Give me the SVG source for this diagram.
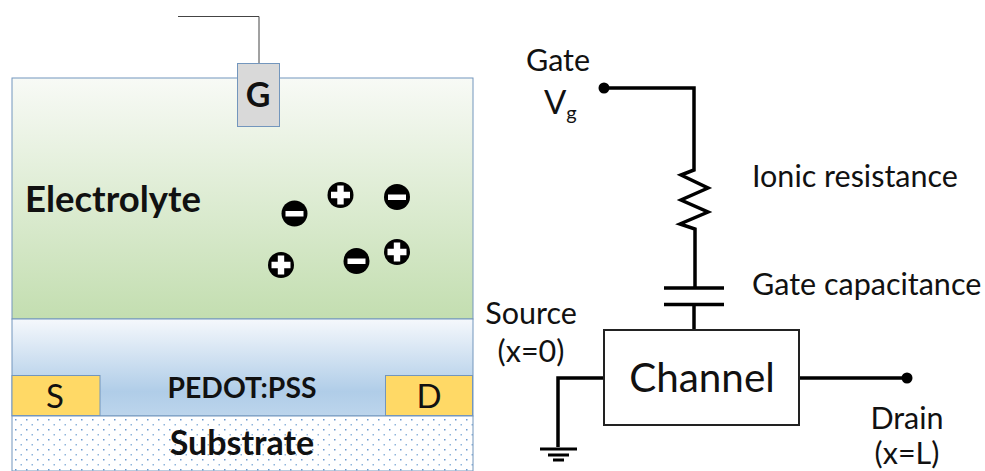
<svg xmlns="http://www.w3.org/2000/svg" width="985" height="471" viewBox="0 0 985 471">
<style>
text{font-family:Lato,"Open Sans",sans-serif;fill:#111}
.b{font-weight:700}
.lbl{font-size:30.500px}
.big{font-size:33px}
.layer{stroke:#7396bd;stroke-width:1}
.w{fill:none;stroke:#000;stroke-width:3.500}
.ion{fill:#000;stroke:none}
.sym{fill:#fff}
</style>
<defs>
<linearGradient id="g1" x1="0" y1="0" x2="0" y2="1"><stop offset="0" stop-color="#f8faf6"/><stop offset="1" stop-color="#c3deb0"/></linearGradient>
<linearGradient id="g2" x1="0" y1="0" x2="0" y2="1"><stop offset="0" stop-color="#f5f8fc"/><stop offset="0.75" stop-color="#b0cde8"/><stop offset="1" stop-color="#bcd5ec"/></linearGradient>
<pattern id="dots" width="11" height="10" patternUnits="userSpaceOnUse" patternTransform="translate(15 419)"><rect width="11" height="10" fill="#fff"/><rect x="0" y="0" width="1.500" height="1.500" fill="#6b9ad0"/><rect x="5.500" y="5" width="1.500" height="1.500" fill="#90b5dc"/></pattern>
</defs>
<g id="connectors">
<path d="M178 16.500H259V63" fill="none" stroke="#444" stroke-width="1"/>
<path class="w" d="M604 88H694V170L681 175L708 188L681 200L708 212L680 224L695 229V288"/>
<path class="w" d="M694 304V330"/>
<path class="w" d="M604 378H558V447"/>
<path class="w" d="M800 378H906"/>
<path d="M664 288H724M664 304.500H724" fill="none" stroke="#000" stroke-width="3.500"/>
<path d="M540 449H577M548 455H569M553 460H564" fill="none" stroke="#000" stroke-width="3"/>
<circle cx="604" cy="88" r="5.500" fill="#000"/>
<circle cx="907" cy="378" r="5.500" fill="#000"/>
</g>
<g id="electrolyte"><rect class="layer" x="12" y="78" width="461" height="241" fill="url(#g1)"/><text class="b" x="25" y="212" font-size="36.500">Electrolyte</text></g>
<g id="pedot"><rect class="layer" x="12" y="319" width="461" height="97" fill="url(#g2)"/><text class="b" x="242" y="398" font-size="28.300" text-anchor="middle">PEDOT:PSS</text></g>
<g id="substrate"><rect class="layer" x="12" y="416" width="461" height="55" fill="url(#dots)"/><text class="b" x="242" y="455" font-size="34" text-anchor="middle">Substrate</text></g>
<g id="source"><rect class="layer" x="12" y="375.500" width="88" height="40" fill="#ffd966"/><text class="big" x="55" y="408" text-anchor="middle">S</text></g>
<g id="drain"><rect class="layer" x="385.500" y="375.500" width="87" height="40" fill="#ffd966"/><text class="big" x="429" y="408" text-anchor="middle">D</text></g>
<g id="gate"><rect class="layer" x="237.500" y="63.500" width="42" height="63" fill="#d9d9d9"/><text class="b" x="258" y="107" font-size="34" text-anchor="middle">G</text></g>
<g id="ions">
<g id="ion1"><circle class="ion" cx="294.500" cy="213.500" r="13"/><rect class="sym" x="285.500" y="211" width="18" height="5.500"/></g>
<g id="ion2"><circle class="ion" cx="340.500" cy="195" r="13"/><path class="sym" d="M337.300 185.500H343.700V191.800H350V198.200H343.700V204.500H337.300V198.200H331V191.800H337.300Z"/></g>
<g id="ion3"><circle class="ion" cx="397" cy="197" r="13"/><rect class="sym" x="388" y="194.500" width="18" height="5.500"/></g>
<g id="ion4"><circle class="ion" cx="281" cy="265" r="13"/><path class="sym" d="M277.800 255.500H284.200V261.800H290.500V268.200H284.200V274.500H277.800V268.200H271.500V261.800H277.800Z"/></g>
<g id="ion5"><circle class="ion" cx="356.500" cy="261" r="13"/><rect class="sym" x="347.500" y="258.500" width="18" height="5.500"/></g>
<g id="ion6"><circle class="ion" cx="397" cy="252" r="13"/><path class="sym" d="M393.800 242.500H400.200V248.800H406.500V255.200H400.200V261.500H393.800V255.200H387.500V248.800H393.800Z"/></g>
</g>
<g id="channel"><rect x="604" y="330" width="195" height="95" fill="#fff" stroke="#222" stroke-width="2"/><text x="702" y="392" font-size="40.400" text-anchor="middle">Channel</text></g>
<g id="labels">
<text class="lbl" x="558" y="71" text-anchor="middle">Gate</text>
<text class="big" x="544" y="114">V<tspan font-size="20" dy="6">g</tspan></text>
<text class="lbl" x="752" y="187">Ionic resistance</text>
<text class="lbl" x="752" y="295">Gate capacitance</text>
<text class="lbl" x="531" y="324" text-anchor="middle">Source</text>
<text class="lbl" x="531" y="362" text-anchor="middle">(x=0)</text>
<text class="lbl" x="907" y="429" text-anchor="middle">Drain</text>
<text class="lbl" x="907" y="464" text-anchor="middle">(x=L)</text>
</g>
</svg>
